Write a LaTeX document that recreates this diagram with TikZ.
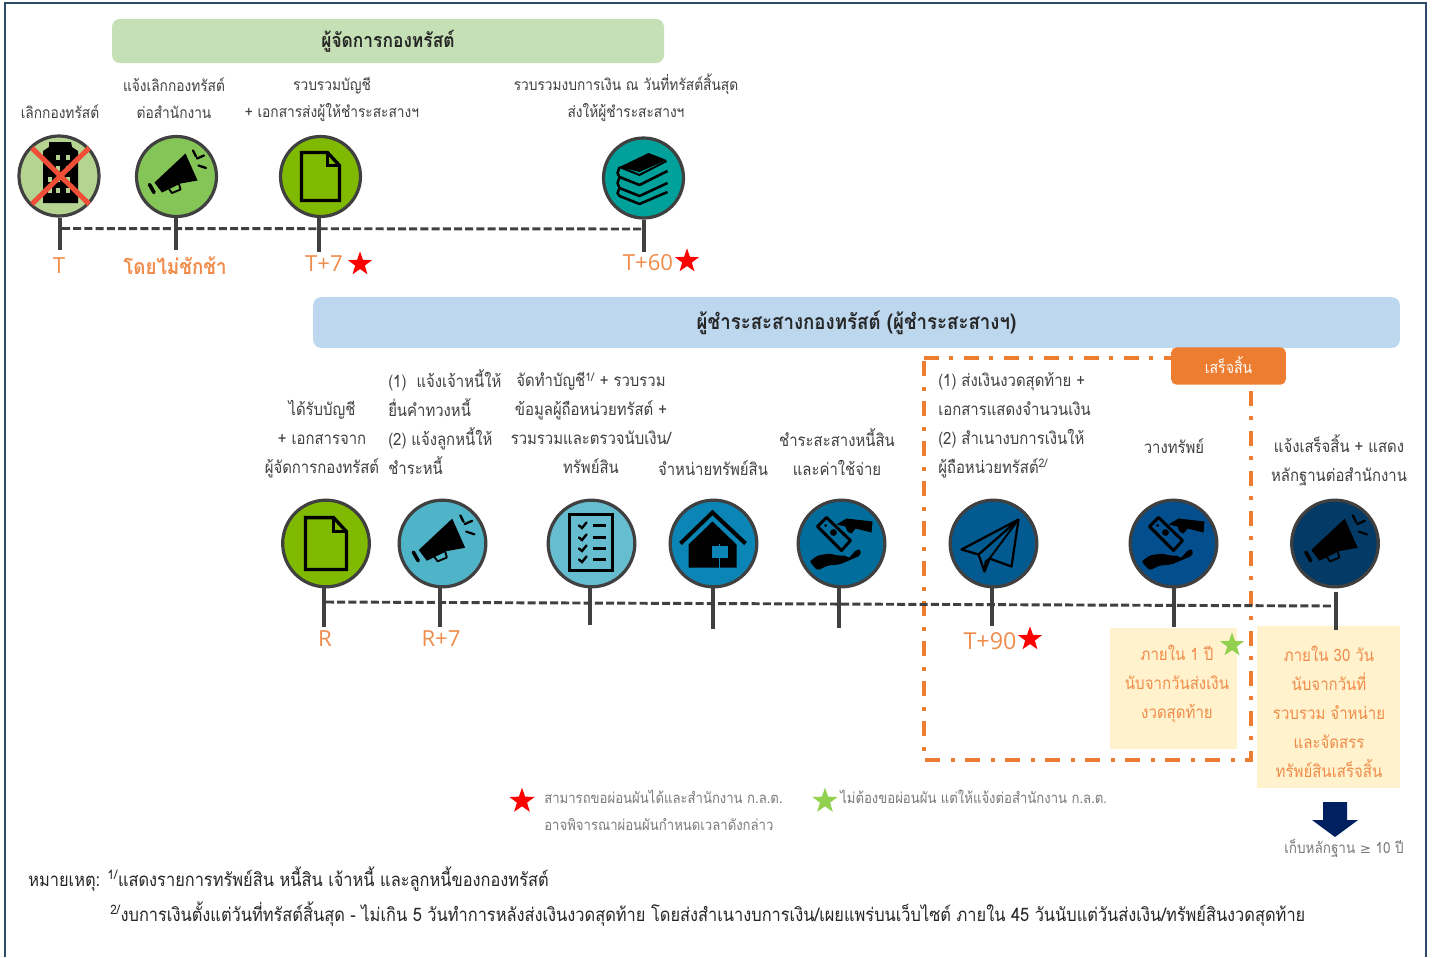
\documentclass[tikz,border=0pt]{standalone}
\usepackage{fontspec}
\usetikzlibrary{shapes.geometric,backgrounds}
\setmainfont[Script=Thai,FakeStretch=0.88]{Loma}
\newfontfamily\latinfont{Open Sans}
\newfontfamily\symfont{DejaVu Sans}
\definecolor{ink}{HTML}{404040}
\definecolor{frameblue}{HTML}{2F4B6B}
\definecolor{orangeX}{HTML}{ED7D31}
\definecolor{orangeT}{HTML}{F08C4A}
\definecolor{greenX}{HTML}{92D050}
\definecolor{greyT}{HTML}{7A7A7A}
\definecolor{headgreen}{HTML}{C5E0B4}
\definecolor{headblue}{HTML}{BDD7EE}
\definecolor{paleyellow}{HTML}{FFF2CC}
\definecolor{navy}{HTML}{002060}
\definecolor{fA}{HTML}{B5D492}
\definecolor{fB}{HTML}{85C558}
\definecolor{fC}{HTML}{7FBA00}
\definecolor{fD}{HTML}{00A19B}
\definecolor{fE}{HTML}{50B4C8}
\definecolor{fF}{HTML}{66BDCF}
\definecolor{fG}{HTML}{0A85B5}
\definecolor{fH}{HTML}{006D9C}
\definecolor{fI}{HTML}{035A91}
\definecolor{fJ}{HTML}{034E8C}
\definecolor{fK}{HTML}{033A66}
\tikzset{
  circ/.style={circle,draw=ink,line width=2.4pt,inner sep=0pt,minimum size=#1},
  cs/.style={circ=60pt},
  cb/.style={circ=65pt},
  tick/.style={draw=ink,line width=2.3pt},
  dashline/.style={draw=ink,line width=2.2pt,dash pattern=on 6pt off 2.4pt},
  body/.style={inner sep=0pt,text=ink,align=center,font=\fontsize{12.7}{21.6}\selectfont},
  bodytop/.style={body,font=\fontsize{11.7}{20.2}\selectfont},
  bodyleft/.style={body,align=left},
  tlabel/.style={inner sep=0pt,text=orangeT,font=\latinfont\fontsize{16.6}{18}\selectfont},
  boxtext/.style={inner sep=0pt,text=orangeT,align=center,font=\fontsize{12.8}{21.8}\selectfont},
  legendtext/.style={inner sep=0pt,text=greyT,align=left,font=\fontsize{11.2}{20.2}\selectfont},
  foot/.style={inner sep=0pt,text=black!85,align=left,font=\fontsize{13.97}{18}\selectfont},
  header/.style={rounded corners=6pt,inner sep=0pt,text=black!85},
  starr/.style={star,star points=5,star point ratio=2.5,inner sep=0pt,minimum size=#1,fill=red},
  starg/.style={star,star points=5,star point ratio=2.5,inner sep=0pt,minimum size=#1,fill=greenX},
  pics/megaphone/.style={code={
    \fill[black,line join=round] (9,-23)--(21,4)--(4,7)--(-14.5,16)--(-22,6)--cycle;
    \draw[black,line width=2.7pt,line cap=round] (-27,8)--(-22.5,16);
    \draw[black,line width=1.4pt,line join=round] (-7.5,12.5)--(-4.5,16.5)--(4,13)--(2.5,7.5);
    \draw[black,line width=1.7pt,line cap=round] (16.5,-26)--(19.5,-20) (20.5,-18)--(27.5,-21) (22,-11)--(29.5,-8.5);
  }},
  pics/docicon/.style={code={
    \draw[black,line width=2.5pt,line join=miter] (-19,-24)--(7,-24)--(19,-11)--(19,24)--(-19,24)--cycle;
    \draw[black,line width=2.2pt] (7,-24)--(7,-11)--(19,-11);
  }},
  pics/books/.style={code={
    \fill[black] (-24,-11)--(5,-25)--(23,-18)--(-4,-6)--cycle;
    \draw[black,line width=1.9pt,line join=round] (-24,-11)--(-26,-5)--(-24,-1)--(-4,7)--(24,-7);
    \draw[black,line width=1.9pt,line join=round] (-24,-1)--(-26,5)--(-24,10)--(-4,18)--(24,5);
    \draw[black,line width=1.9pt,line join=round] (-24,10)--(-26,15)--(-24,18)--(-4,26)--(24,14);
    \draw[black,line width=1.5pt] (-24,-11)--(-4,-3)--(23,-17);
  }},
  pics/house/.style={code={
    \draw[black,line width=3pt] (-33,0)--(-1,-31)--(32,0);
    \fill[black] (-25,1)--(-1,-22)--(23,1)--(23,24)--(-25,24)--cycle;
    \fill[fill=#1] (-2,2) rectangle (14,14);
    \draw[#1,line width=1.4pt] (6,14)--(6,25) (6,2)--(6,0);
  }},
  pics/hand/.style={code={
    \draw[black,line width=2.2pt,line join=round] (-24,-17)--(-15,-26)--(9,-3)--(0,7)--cycle;
    \fill[black] (-8,-11) circle (3.4);
    \fill[black] (-16,-18) circle (1.5);
    \fill[black,line join=round] (-5,-19)--(5,-25)--(31,-22)--(30,-11)--(14,-15)--(10,-10)--(6,-12)--(4,-17)--cycle;
    \fill[black,rounded corners=1.5pt] (-32,18)--(-24,12)--(-12,10)--(-4,12)--(5,12)--(7,15)--(15,6)--(19,6)--(19,12)--(-2,21)--(-14,22)--(-24,27)--cycle;
  }},
  pics/plane/.style={code={
    \draw[black,line width=1.7pt,line join=round] (25,-24)--(-32,6)--(-15,11)--(25,-24)--(18,23)--(-4,15)--(-9,28)--(-15,11);
    \draw[black,line width=1.4pt,line join=round] (-4,15)--(25,-24) (-9,28)--(-8,18)--(-4,15);
  }},
  pics/checklist/.style={code={
    \draw[black,line width=2.5pt] (-22,-29) rectangle (21,27);
    \foreach \yy in {-18,-6,5,16}{
      \draw[black,line width=1.8pt,line cap=round] (-12.5,\yy)--(-9.5,\yy+2.5)--(-5,\yy-3);
      \draw[black,line width=1.9pt] (1,\yy)--(14,\yy);
    }
  }},
  pics/tower/.style={code={
    \fill[black] (-10,-34)--(12,-34)--(13,-29)--(19,-25)--(19,27)--(-16,27)--(-16,-25)--(-10,-29)--cycle;
    \foreach \xx in {-1,9}{\foreach \yy in {-19,-8,3,14}{\fill[#1] (\xx-1.8,\yy-2.5) rectangle (\xx+1.8,\yy+2.5);}}
    \foreach \yy in {3,14}{\fill[#1] (-11,\yy-2.5) rectangle (-7.5,\yy+2.5);}
  }},
}
\newcommand{\sss}[1]{\textsuperscript{#1}}
\begin{document}
\begin{tikzpicture}[x=0.75pt,y=-0.75pt]
\useasboundingbox (0,0) rectangle (1433,957);
\fill[white] (0,0) rectangle (1433,957);

% frame
\coordinate (fa) at (5,957); \coordinate (fb) at (5,3); \coordinate (fc) at (1426,3); \coordinate (fd) at (1426,957);
\draw[frameblue,line width=2.2pt] (fa)--(fb)--(fc)--(fd);

% headers
\node[header,fill=headgreen,minimum width=414pt,minimum height=33pt,font=\bfseries\fontsize{14.8}{16}\selectfont] (h1) at (388,41) {ผู้จัดการกองทรัสต์};
\node[header,fill=headblue,minimum width=815pt,minimum height=38pt,font=\bfseries\fontsize{15.9}{16}\selectfont] (h2) at (856.5,322.5) {\raisebox{1.5pt}{ผู้ชำระสะสางกองทรัสต์ (ผู้ชำระสะสางฯ)}};

% yellow boxes
\node[fill=paleyellow,inner sep=0pt,minimum width=95pt,minimum height=91pt] (y1) at (1173.5,688.5) {};
\node[fill=paleyellow,inner sep=0pt,minimum width=107pt,minimum height=121.5pt] (y2) at (1328.5,707) {};

% dash-dot box
\coordinate (b1) at (924,358); \coordinate (b2) at (1251,358); \coordinate (b3) at (1251,760); \coordinate (b4) at (924,760);
\draw[orangeX,line width=3pt,dash pattern=on 11pt off 7.5pt on 3pt off 8.5pt] (b1)--(b2)--(b3)--(b4)--cycle;

% finish tag
\node[fill=orangeX,rounded corners=4pt,inner sep=0pt,minimum width=86pt,minimum height=28pt,text=white,font=\fontsize{12}{13}\selectfont] (fin) at (1228.5,366) {\raisebox{1.5pt}{เสร็จสิ้น}};

% top row circles
\node[cs,fill=fA] (ca) at (59,176) {};
\node[cs,fill=fB] (cb) at (176.5,176.5) {};
\node[cs,fill=fC] (cc) at (320.5,176.5) {};
\node[cs,fill=fD] (cd) at (643.5,178) {};
\pic at (ca) {tower=fA};
\draw[draw={rgb,255:red,240;green,78;blue,54},line width=3.8pt] (32,148)--(89,204) (89,148)--(32,204);
\pic at (cb) {megaphone};
\pic at (cc) {docicon};
\pic at (cd) {books};

% bottom row circles
\node[cb,fill=fC] (da) at (326,543.5) {};
\node[cb,fill=fE] (db) at (442.5,543.5) {};
\node[cb,fill=fF] (dc) at (591.5,543.5) {};
\node[cb,fill=fG] (dd) at (713.5,543.5) {};
\node[cb,fill=fH] (de) at (841.5,543.5) {};
\node[cb,fill=fI] (df) at (993.5,543.5) {};
\node[cb,fill=fJ] (dg) at (1173.5,543.5) {};
\node[cb,fill=fK] (dh) at (1335,543.5) {};
\pic[scale=1.08] at (da) {docicon};
\pic[scale=1.08] at (db) {megaphone};
\pic at (dc) {checklist};
\pic at (dd) {house=fG};
\pic at (de) {hand};
\pic at (df) {plane};
\pic at (dg) {hand};
\pic[scale=1.08] at (dh) {megaphone};

% top time line
\coordinate (ta) at (60,250); \coordinate (tb) at (176,250); \coordinate (tc) at (319,252); \coordinate (td) at (644,252);
\coordinate (la) at (62,228.5); \coordinate (lb) at (642,229);
\draw[dashline] (la)--(lb);
\draw[tick] (ta |- ca.south)--(ta);
\draw[tick] (tb |- cb.south)--(tb);
\draw[tick] (tc |- cc.south)--(tc);
\draw[tick] (td |- cd.south)--(td);

% bottom time line
\coordinate (ua) at (324,627); \coordinate (ub) at (440,627); \coordinate (uc) at (590,625); \coordinate (ud) at (713,629);
\coordinate (ue) at (839,628); \coordinate (uf) at (992,626); \coordinate (ug) at (1174,627); \coordinate (uh) at (1336,630);
\coordinate (uh0) at (1336,592); \coordinate (ma) at (326,602); \coordinate (mb) at (1333,606);
\draw[dashline] (ma)--(mb);
\draw[tick] (ua |- da.south)--(ua);
\draw[tick] (ub |- db.south)--(ub);
\draw[tick] (uc |- dc.south)--(uc);
\draw[tick] (ud |- dd.south)--(ud);
\draw[tick] (ue |- de.south)--(ue);
\draw[tick] (uf |- df.south)--(uf);
\draw[tick] (ug |- dg.south)--(ug);
\draw[tick] (uh0)--(uh);

% texts over the top row
\node[bodytop] (a1) at (60,111.5) {เลิกกองทรัสต์};
\node[bodytop] (a2) at (174,98) {แจ้งเลิกกองทรัสต์\\ต่อสำนักงาน};
\node[bodytop] (a3) at (332,99) {รวบรวมบัญชี\\+ เอกสารส่งผู้ให้ชำระสะสางฯ};
\node[bodytop] (a4) at (626,98) {รวบรวมงบการเงิน ณ วันที่ทรัสต์สิ้นสุด\\ส่งให้ผู้ชำระสะสางฯ};

% time labels
\node[tlabel] (la1) at (59,266) {T};
\node[inner sep=0pt,text=orangeT,font=\bfseries\fontsize{16}{18}\selectfont] (la2) at (175,266) {โดยไม่ชักช้า};
\node[tlabel] (la3) at (324,264) {T+7};
\node[tlabel] (la4) at (648,263) {T+60};
\node[starr=19pt] (s1) at (360,264) {};
\node[starr=19pt] (s2) at (687,261) {};

% texts over the bottom row
\node[body] (b1t) at (322,439) {ได้รับบัญชี\\+ เอกสารจาก\\ผู้จัดการกองทรัสต์};
\node[bodyleft,anchor=west] (b2t) at (388,422) {(1)~ แจ้งเจ้าหนี้ให้\\ยื่นคำทวงหนี้\\(2) แจ้งลูกหนี้ให้\\ชำระหนี้};
\node[body] (b3t) at (591,423) {จัดทำบัญชี\sss{1/} + รวบรวม\\ข้อมูลผู้ถือหน่วยทรัสต์ +\\รวมรวมและตรวจนับเงิน/\\ทรัพย์สิน};
\node[body] (b4t) at (713,468) {จำหน่ายทรัพย์สิน};
\node[body] (b5t) at (837,452) {ชำระสะสางหนี้สิน\\และค่าใช้จ่าย};
\node[bodyleft,anchor=west] (b6t) at (938,425) {(1) ส่งเงินงวดสุดท้าย +\\เอกสารแสดงจำนวนเงิน\\(2) สำเนางบการเงินให้\\ผู้ถือหน่วยทรัสต์\sss{2/}};
\node[body] (b7t) at (1174,446) {วางทรัพย์};
\node[body] (b8t) at (1339,460) {แจ้งเสร็จสิ้น + แสดง\\หลักฐานต่อสำนักงาน};

\node[tlabel] (ra) at (325,639) {R};
\node[tlabel] (rb) at (441,639) {R+7};
\node[tlabel,font=\latinfont\fontsize{17.5}{18}\selectfont] (rc) at (990,641) {T+90};
\node[starr=19pt] (s3) at (1030,639) {};

% box texts
\node[boxtext] (y1t) at (1177,684) {ภายใน 1 ปี\\นับจากวันส่งเงิน\\งวดสุดท้าย};
\node[boxtext] (y2t) at (1329,712) {ภายใน 30 วัน\\นับจากวันที่\\รวบรวม จำหน่าย\\และจัดสรร\\ทรัพย์สินเสร็จสิ้น};
\node[starg=19pt] (s4) at (1232,645) {};

% arrow
\fill[navy] (1323,802)--(1347,802)--(1347,820)--(1358,820)--(1335,837)--(1312,820)--(1323,820)--cycle;
\node[inner sep=0pt,text=greyT,font=\fontsize{11.5}{12}\selectfont] (keep) at (1344,848) {เก็บหลักฐาน {\symfont\fontsize{10}{12}\selectfont ≥} 10 ปี};

% legend
\node[starr=20pt] (s5) at (522,801) {};
\node[legendtext,anchor=west] (l1) at (544,810) {สามารถขอผ่อนผันได้และสำนักงาน ก.ล.ต.\\อาจพิจารณาผ่อนผันกำหนดเวลาดังกล่าว};
\node[starg=20pt] (s6) at (825,801) {};
\node[legendtext,anchor=west] (l2) at (840,797) {ไม่ต้องขอผ่อนผัน แต่ให้แจ้งต่อสำนักงาน ก.ล.ต.};

% footnotes
\node[foot,anchor=west] (f1) at (28,879) {หมายเหตุ: \sss{1/}แสดงรายการทรัพย์สิน หนี้สิน เจ้าหนี้ และลูกหนี้ของกองทรัสต์};
\node[foot,anchor=west] (f2) at (110,914) {\sss{2/}งบการเงินตั้งแต่วันที่ทรัสต์สิ้นสุด - ไม่เกิน 5 วันทำการหลังส่งเงินงวดสุดท้าย โดยส่งสำเนางบการเงิน/เผยแพร่บนเว็บไซต์ ภายใน 45 วันนับแต่วันส่งเงิน/ทรัพย์สินงวดสุดท้าย};
\end{tikzpicture}
\end{document}
